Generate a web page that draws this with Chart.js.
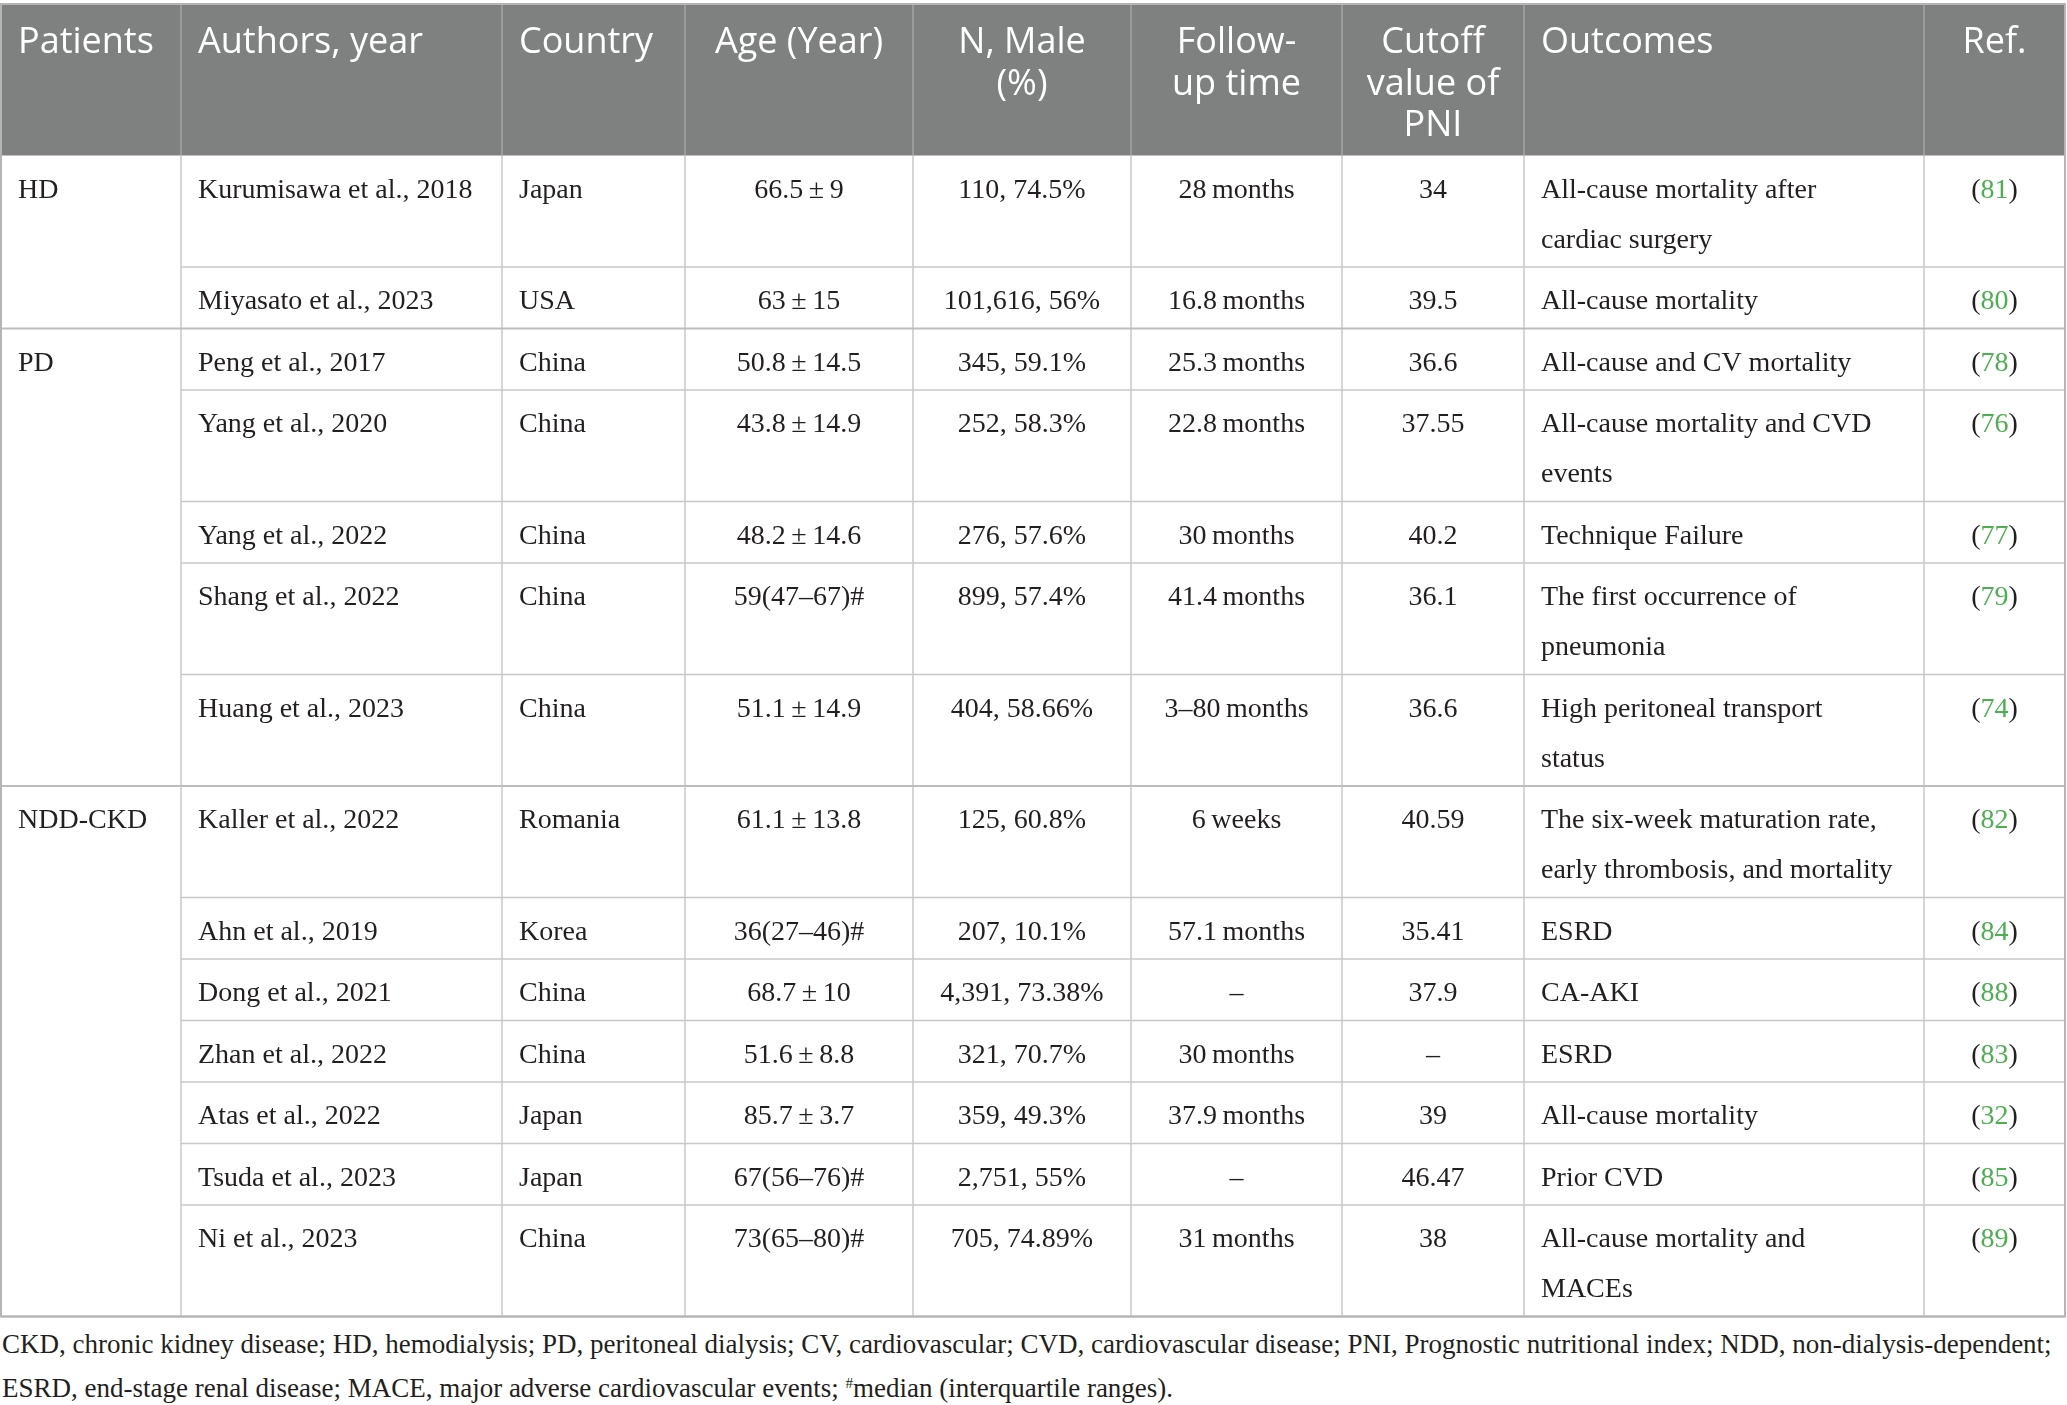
<!DOCTYPE html>
<html lang="en">
<head>
<meta charset="UTF-8">
<title>PNI studies in CKD patients</title>
<style>
    body {
        margin: 0;
        background: #ffffff;
        width: 2067px;
        height: 1405px;
        overflow: hidden;
    }
    .table-wrap {
        position: absolute;
        left: 0;
        top: 0;
        width: 2067px;
        height: 1320px;
    }
    .note {
        position: absolute;
        left: 2px;
        top: 1325px;
        font-family: "Liberation Serif", serif;
        font-size: 27px;
        line-height: 38.5px;
        color: #231f20;
        white-space: nowrap;
    }
    .note sup {
        font-size: 15px;
        vertical-align: 9px;
    }
</style>
</head>
<body>
<div class="table-wrap"><canvas id="chart"></canvas></div>
<div class="note">CKD, chronic kidney disease; HD, hemodialysis; PD, peritoneal dialysis; CV, cardiovascular; CVD, cardiovascular disease; PNI, Prognostic nutritional index; NDD, non-dialysis-dependent;<br>ESRD, end-stage renal disease; MACE, major adverse cardiovascular events; <sup>#</sup>median (interquartile ranges).</div>

<script src="https://cdn.jsdelivr.net/npm/chart.js"></script>
<script>
    // table content
    const headers = [
        ['Patients'], ['Authors, year'], ['Country'], ['Age (Year)'], ['N, Male', '(%)'],
        ['Follow-', 'up time'], ['Cutoff', 'value of', 'PNI'], ['Outcomes'], ['Ref.']
    ];
    const patientGroups = ['HD', 'PD', 'NDD-CKD'];
    const groupSizes = [2, 5, 7];
    const authors = [
        'Kurumisawa et al., 2018', 'Miyasato et al., 2023',
        'Peng et al., 2017', 'Yang et al., 2020', 'Yang et al., 2022', 'Shang et al., 2022', 'Huang et al., 2023',
        'Kaller et al., 2022', 'Ahn et al., 2019', 'Dong et al., 2021', 'Zhan et al., 2022', 'Atas et al., 2022',
        'Tsuda et al., 2023', 'Ni et al., 2023'
    ];
    const countries = [
        'Japan', 'USA', 'China', 'China', 'China', 'China', 'China',
        'Romania', 'Korea', 'China', 'China', 'Japan', 'Japan', 'China'
    ];
    const ages = [
        '66.5\u2009±\u20099', '63\u2009±\u200915', '50.8\u2009±\u200914.5', '43.8\u2009±\u200914.9',
        '48.2\u2009±\u200914.6', '59(47–67)#', '51.1\u2009±\u200914.9', '61.1\u2009±\u200913.8',
        '36(27–46)#', '68.7\u2009±\u200910', '51.6\u2009±\u20098.8', '85.7\u2009±\u20093.7',
        '67(56–76)#', '73(65–80)#'
    ];
    const nMale = [
        '110, 74.5%', '101,616, 56%', '345, 59.1%', '252, 58.3%', '276, 57.6%', '899, 57.4%',
        '404, 58.66%', '125, 60.8%', '207, 10.1%', '4,391, 73.38%', '321, 70.7%', '359, 49.3%',
        '2,751, 55%', '705, 74.89%'
    ];
    const followUp = [
        '28\u2009months', '16.8\u2009months', '25.3\u2009months', '22.8\u2009months', '30\u2009months',
        '41.4\u2009months', '3–80\u2009months', '6\u2009weeks', '57.1\u2009months', '–', '30\u2009months',
        '37.9\u2009months', '–', '31\u2009months'
    ];
    const cutoffs = [
        '34', '39.5', '36.6', '37.55', '40.2', '36.1', '36.6', '40.59', '35.41', '37.9', '–', '39', '46.47', '38'
    ];
    const outcomes = [
        ['All-cause mortality after', 'cardiac surgery'],
        ['All-cause mortality'],
        ['All-cause and CV mortality'],
        ['All-cause mortality and CVD', 'events'],
        ['Technique Failure'],
        ['The first occurrence of', 'pneumonia'],
        ['High peritoneal transport', 'status'],
        ['The six-week maturation rate,', 'early thrombosis, and mortality'],
        ['ESRD'],
        ['CA-AKI'],
        ['ESRD'],
        ['All-cause mortality'],
        ['Prior CVD'],
        ['All-cause mortality and', 'MACEs']
    ];
    const refs = ['81', '80', '78', '76', '77', '79', '74', '82', '84', '88', '83', '32', '85', '89'];

    // layout (table units = page pixels)
    const colEdges = [1, 181, 502, 685, 913, 1131, 1342, 1524, 1924, 2065];
    const colAlign = ['left', 'left', 'left', 'center', 'center', 'center', 'center', 'left', 'center'];
    const padLeft = 17;
    const tableTop = 4;
    const headerHeight = 151.5;
    const headerFirstBase = 49;
    const headerLineGap = 41.5;
    const rowBase = 61.5;
    const lineGap = 50;
    const firstBase = 42;

    const headerFont = '36px "Open Sans"';
    const bodyFont = '28px "Liberation Serif"';
    const headerBg = '#7f8180';
    const textColor = '#231f20';
    const refColor = '#4caf50';

    const rowTops = [];
    let acc = tableTop + headerHeight;
    outcomes.forEach(o => {
        rowTops.push(acc);
        acc += rowBase + lineGap * (o.length - 1);
    });
    const tableBottom = acc;

    function cellText(ctx, text, col, base, px) {
        const left = px(colEdges[col]);
        const right = px(colEdges[col + 1]);
        if (colAlign[col] === 'left') {
            ctx.textAlign = 'left';
            ctx.fillText(text, left + padLeft, base);
        } else {
            ctx.textAlign = 'center';
            ctx.fillText(text, (left + right) / 2, base);
        }
    }

    const tablePlugin = {
        id: 'tableCells',
        afterDraw(chart) {
            const ctx = chart.ctx;
            const px = v => chart.scales.x.getPixelForValue(v);
            const py = v => chart.scales.y.getPixelForValue(v);
            const xL = px(colEdges[0]);
            const xR = px(colEdges[colEdges.length - 1]);
            const yT = py(tableTop);
            const yH = py(tableTop + headerHeight);
            const yB = py(tableBottom);

            ctx.save();
            // header
            ctx.fillStyle = headerBg;
            ctx.fillRect(xL, yT, xR - xL, yH - yT);
            ctx.strokeStyle = '#a4a5a4';
            ctx.lineWidth = 1.5;
            for (let c = 1; c < colEdges.length - 1; c++) {
                ctx.beginPath();
                ctx.moveTo(px(colEdges[c]), yT);
                ctx.lineTo(px(colEdges[c]), yH);
                ctx.stroke();
            }
            ctx.fillStyle = '#ffffff';
            ctx.font = headerFont;
            ctx.textBaseline = 'alphabetic';
            headers.forEach((lines, c) => {
                lines.forEach((t, j) => {
                    cellText(ctx, t, c, py(tableTop + headerFirstBase + j * headerLineGap), px);
                });
            });

            // body grid
            ctx.strokeStyle = '#c8c8c8';
            ctx.lineWidth = 1.5;
            for (let c = 1; c < colEdges.length - 1; c++) {
                ctx.beginPath();
                ctx.moveTo(px(colEdges[c]), yH);
                ctx.lineTo(px(colEdges[c]), yB);
                ctx.stroke();
            }
            let r = 0;
            groupSizes.forEach((n, g) => {
                for (let k = 0; k < n; k++, r++) {
                    const yEnd = py(r + 1 < rowTops.length ? rowTops[r + 1] : tableBottom);
                    const last = k === n - 1;
                    ctx.strokeStyle = last ? '#bdbdbd' : '#c8c8c8';
                    ctx.lineWidth = last ? 2.2 : 1.5;
                    ctx.beginPath();
                    ctx.moveTo(last ? xL : px(colEdges[1]), yEnd);
                    ctx.lineTo(xR, yEnd);
                    ctx.stroke();
                }
            });

            // body text
            ctx.font = bodyFont;
            ctx.fillStyle = textColor;
            let first = 0;
            groupSizes.forEach((n, g) => {
                cellText(ctx, patientGroups[g], 0, py(rowTops[first] + firstBase), px);
                first += n;
            });
            authors.forEach((a, i) => {
                const base = y => py(rowTops[i] + firstBase + y * lineGap);
                ctx.fillStyle = textColor;
                cellText(ctx, a, 1, base(0), px);
                cellText(ctx, countries[i], 2, base(0), px);
                cellText(ctx, ages[i], 3, base(0), px);
                cellText(ctx, nMale[i], 4, base(0), px);
                cellText(ctx, followUp[i], 5, base(0), px);
                cellText(ctx, cutoffs[i], 6, base(0), px);
                outcomes[i].forEach((t, j) => cellText(ctx, t, 7, base(j), px));
                // reference: green number in black brackets
                const wOpen = ctx.measureText('(').width;
                const wNum = ctx.measureText(refs[i]).width;
                const wClose = ctx.measureText(')').width;
                const cx = (px(colEdges[8]) + px(colEdges[9])) / 2;
                let sx = cx - (wOpen + wNum + wClose) / 2;
                ctx.textAlign = 'left';
                ctx.fillText('(', sx, base(0));
                ctx.fillStyle = refColor;
                ctx.fillText(refs[i], sx + wOpen, base(0));
                ctx.fillStyle = textColor;
                ctx.fillText(')', sx + wOpen + wNum, base(0));
            });

            // outer border
            ctx.strokeStyle = '#b5b5b5';
            ctx.lineWidth = 2;
            ctx.strokeRect(xL, yT, xR - xL, yB - yT);
            ctx.restore();
        }
    };

    const chart = new Chart(document.getElementById('chart'), {
        type: 'scatter',
        data: { datasets: [] },
        options: {
            responsive: true,
            maintainAspectRatio: false,
            animation: false,
            layout: { padding: 0 },
            plugins: { legend: { display: false }, tooltip: { enabled: false } },
            scales: {
                x: { type: 'linear', min: 0, max: 2067, display: false },
                y: { type: 'linear', min: 0, max: 1320, reverse: true, display: false }
            }
        },
        plugins: [tablePlugin]
    });
</script>
</body>
</html>
